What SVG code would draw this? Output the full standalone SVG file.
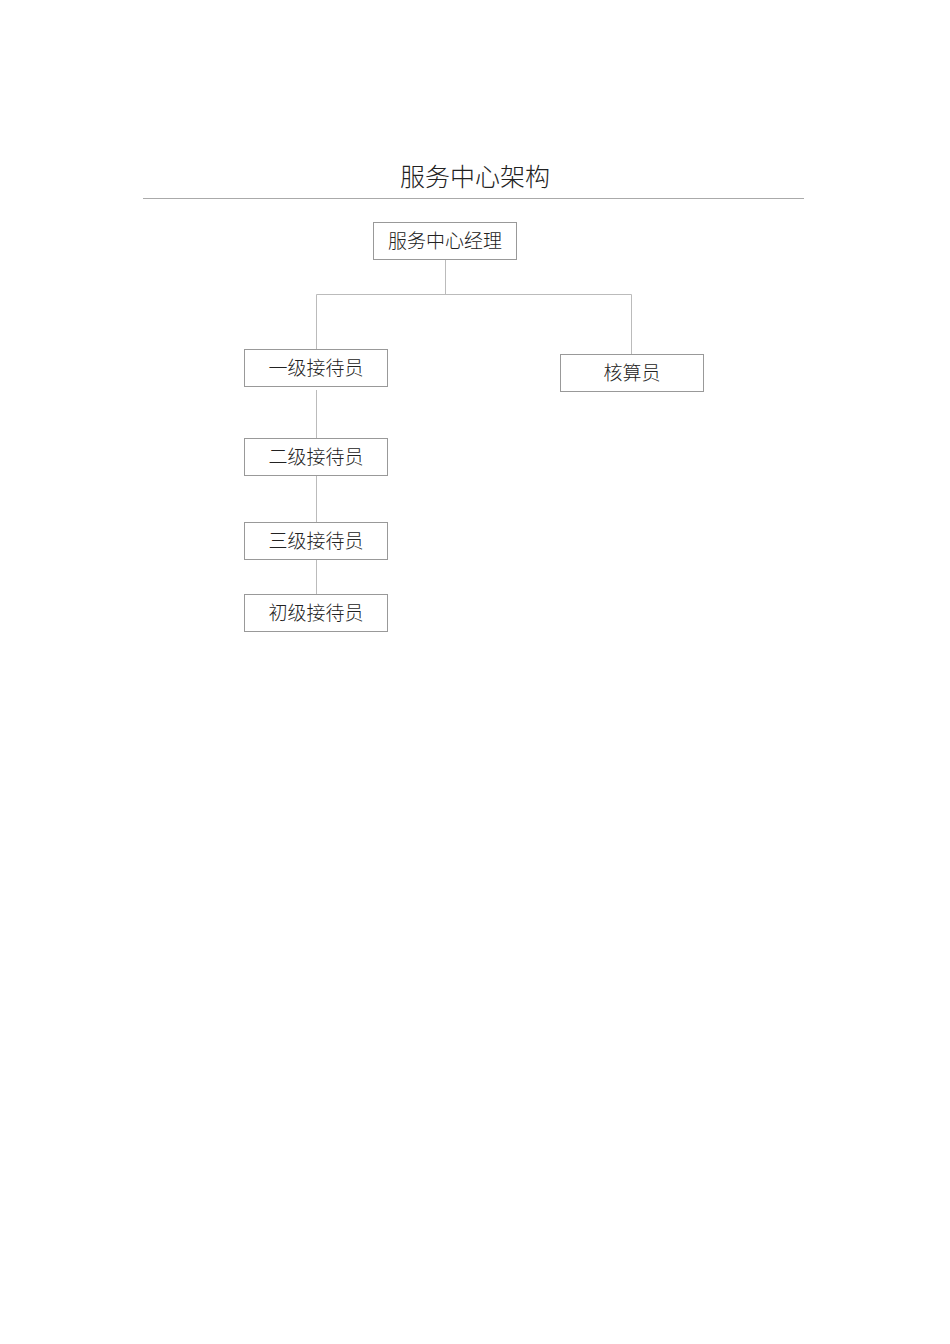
<svg xmlns="http://www.w3.org/2000/svg" width="950" height="1344" viewBox="0 0 950 1344">
<style>
text{font-family:"Liberation Serif","Noto Sans CJK SC",serif;fill:#222;text-anchor:middle;font-weight:300}
.t{font-size:25px}
.n{font-size:19px}
rect{fill:#fff;stroke:#999;stroke-width:1}
.c{stroke:#bbb;stroke-width:1;fill:none}
</style>
<rect x="0" y="0" width="950" height="1344" style="stroke:none;fill:#fff"/>
<g id="title">
<text class="t" x="475" y="186">服务中心架构</text>
<line x1="143" y1="198.5" x2="804" y2="198.5" stroke="#aaa" stroke-width="1"/>
</g>
<g id="connectors">
<path class="c" d="M445.5 260 V294.5 M316.5 294.5 H631.5 M316.5 294.5 V352 M631.5 294.5 V354 M316.5 390 V438 M316.5 475 V522 M316.5 559 V594"/>
</g>
<g id="manager"><rect x="373.5" y="222.5" width="143" height="37"/><text class="n" x="445" y="248">服务中心经理</text></g>
<g id="level1"><rect x="244.5" y="349.5" width="143" height="37"/><text class="n" x="316" y="375">一级接待员</text></g>
<g id="accountant"><rect x="560.5" y="354.5" width="143" height="37"/><text class="n" x="632" y="380">核算员</text></g>
<g id="level2"><rect x="244.5" y="438.5" width="143" height="37"/><text class="n" x="316" y="464">二级接待员</text></g>
<g id="level3"><rect x="244.5" y="522.5" width="143" height="37"/><text class="n" x="316" y="548">三级接待员</text></g>
<g id="junior"><rect x="244.5" y="594.5" width="143" height="37"/><text class="n" x="316" y="620">初级接待员</text></g>
</svg>
